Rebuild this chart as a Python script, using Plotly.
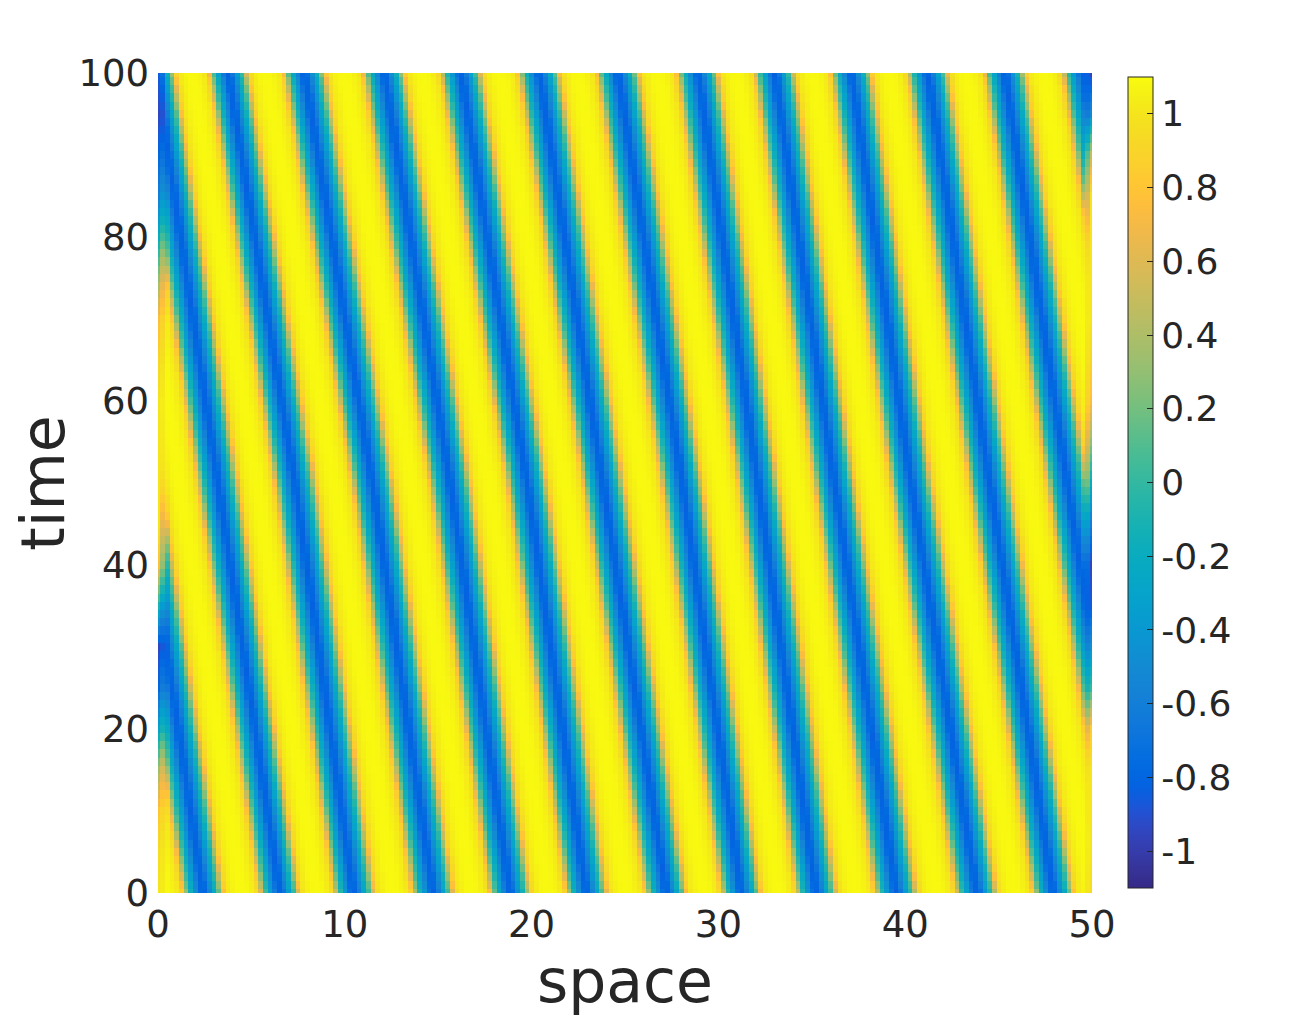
import numpy as np
import plotly.graph_objects as go

# ---------------- data ----------------
# time grid and space grid of the field
t_vals = np.arange(0, 101, 1.0)
x_vals = np.arange(0, 50.001, 0.25)

# centres of the blue (minimum) stripes at three reference times (space units)
key_times = [0, 50, 100]
blue_x_t0 = [-1.7, 2.41, 6.53, 10.44, 14.72, 18.84, 22.91, 27.2, 31.2, 35.2, 39.5, 43.8, 47.9, 52.0, 56.1, 60.2]
blue_x_t50 = [-5.05, -0.9, 3.21, 7.33, 11.46, 15.63, 19.75, 23.8, 28.05, 32.1, 36.2, 40.3, 44.5, 48.65, 52.8, 56.9]
blue_x_t100 = [-8.4, -4.3, -0.11, 3.75, 7.82, 12.1, 16.2, 20.4, 24.6, 28.9, 33.0, 37.1, 41.2, 45.3, 49.5, 53.6]

# value across one stripe period (0 = blue centre, 0.5 = yellow centre)
profile_phase = [0.0, 0.04, 0.08, 0.12, 0.16, 0.20, 0.235, 0.265, 0.29, 0.33, 0.42, 0.50,
                 0.58, 0.67, 0.71, 0.735, 0.765, 0.80, 0.84, 0.88, 0.92, 0.96, 1.0]
profile_value = [-0.83, -0.76, -0.56, -0.36, -0.15, 0.1, 0.45, 0.76, 0.91, 1.02, 1.08, 1.09,
                 1.08, 1.02, 0.91, 0.76, 0.45, 0.1, -0.15, -0.36, -0.56, -0.76, -0.83]

# boundary columns (values along time, every 5 time units)
edge_times = list(range(0, 101, 5))
left_edge_vals = [1.0, 0.95, 0.8, 0.35, -0.3, -0.8, -0.95, -0.1, 0.75, 1.0, 1.0,
                  1.0, 1.0, 0.9, 0.75, 0.3, -0.2, -0.6, -0.8, -0.95, -0.85]
right_edge_vals = [0.95, 1.0, 1.0, 1.0, 0.85, 0.0, -0.45, -0.85, -0.95, -0.6, -0.2,
                   0.3, 0.75, 0.9, 1.0, 1.0, 1.0, 1.0, 0.5, -0.5, -0.95]

x_tick_vals = [0, 10, 20, 30, 40, 50]
y_tick_vals = [0, 20, 40, 60, 80, 100]
cbar_tick_vals = [1, 0.8, 0.6, 0.4, 0.2, 0, -0.2, -0.4, -0.6, -0.8, -1]
cbar_tick_text = ["1", "0.8", "0.6", "0.4", "0.2", "0", "-0.2", "-0.4", "-0.6", "-0.8", "-1"]
c_min, c_max = -1.1, 1.1

# ---------------- build the field ----------------
pos = np.array([blue_x_t0, blue_x_t50, blue_x_t100])
K = pos.shape[1]
Z = np.zeros((len(t_vals), len(x_vals)))
for i, tt in enumerate(t_vals):
    p = np.array([np.interp(tt, key_times, pos[:, k]) for k in range(K)])
    ph = np.interp(x_vals, p, np.arange(K))
    f = np.mod(ph, 1.0)
    Z[i, :] = np.interp(f, profile_phase, profile_value)

le = np.interp(t_vals, edge_times, left_edge_vals)
re = np.interp(t_vals, edge_times, right_edge_vals)
Z[:, 0] = le
Z[:, 1] = 0.6 * le + 0.4 * Z[:, 1]
Z[:, -1] = re
Z[:, -2] = 0.6 * re + 0.4 * Z[:, -2]

# MATLAB parula colormap
parula = [[0.2081, 0.1663, 0.5292], [0.2116, 0.1898, 0.5777], [0.2123, 0.2138, 0.6270], [0.2081, 0.2386, 0.6771],
          [0.1959, 0.2645, 0.7279], [0.1707, 0.2919, 0.7792], [0.1253, 0.3242, 0.8303], [0.0591, 0.3598, 0.8683],
          [0.0117, 0.3875, 0.8820], [0.0060, 0.4086, 0.8828], [0.0165, 0.4266, 0.8786], [0.0329, 0.4430, 0.8720],
          [0.0498, 0.4586, 0.8641], [0.0629, 0.4737, 0.8554], [0.0723, 0.4887, 0.8467], [0.0779, 0.5040, 0.8384],
          [0.0793, 0.5200, 0.8312], [0.0749, 0.5375, 0.8263], [0.0641, 0.5570, 0.8240], [0.0488, 0.5772, 0.8228],
          [0.0343, 0.5966, 0.8199], [0.0265, 0.6137, 0.8135], [0.0239, 0.6287, 0.8038], [0.0231, 0.6418, 0.7913],
          [0.0228, 0.6535, 0.7768], [0.0267, 0.6642, 0.7607], [0.0384, 0.6743, 0.7436], [0.0590, 0.6838, 0.7254],
          [0.0843, 0.6928, 0.7062], [0.1133, 0.7015, 0.6859], [0.1453, 0.7098, 0.6646], [0.1801, 0.7177, 0.6424],
          [0.2178, 0.7250, 0.6193], [0.2586, 0.7317, 0.5954], [0.3022, 0.7376, 0.5712], [0.3482, 0.7424, 0.5473],
          [0.3953, 0.7459, 0.5244], [0.4420, 0.7481, 0.5033], [0.4871, 0.7491, 0.4840], [0.5300, 0.7491, 0.4661],
          [0.5709, 0.7485, 0.4494], [0.6099, 0.7473, 0.4337], [0.6473, 0.7456, 0.4188], [0.6834, 0.7435, 0.4044],
          [0.7184, 0.7411, 0.3905], [0.7525, 0.7384, 0.3768], [0.7858, 0.7356, 0.3633], [0.8185, 0.7327, 0.3498],
          [0.8507, 0.7299, 0.3360], [0.8824, 0.7274, 0.3217], [0.9139, 0.7258, 0.3063], [0.9450, 0.7261, 0.2886],
          [0.9739, 0.7314, 0.2666], [0.9938, 0.7455, 0.2403], [0.9990, 0.7653, 0.2164], [0.9955, 0.7861, 0.1967],
          [0.9880, 0.8066, 0.1794], [0.9789, 0.8271, 0.1633], [0.9697, 0.8481, 0.1475], [0.9626, 0.8705, 0.1309],
          [0.9589, 0.8949, 0.1132], [0.9598, 0.9218, 0.0948], [0.9661, 0.9514, 0.0755], [0.9763, 0.9831, 0.0538]]
n = len(parula)
colorscale = [[i / (n - 1), "rgb(%d,%d,%d)" % tuple(int(round(255 * c)) for c in rgb)] for i, rgb in enumerate(parula)]

FONT = "DejaVu Sans"
TXT = "#262626"

fig = go.Figure(go.Heatmap(
    x=x_vals, y=t_vals, z=Z,
    colorscale=colorscale, zmin=c_min, zmax=c_max, zsmooth=False,
    colorbar=dict(
        x=(1128 - 158) / 934, xanchor="left", xpad=0,
        y=(893 - 482.5) / 820, yanchor="middle", ypad=0,
        lenmode="pixels", len=811, thickness=25,
        outlinewidth=1, outlinecolor=TXT,
        tickmode="array", tickvals=cbar_tick_vals, ticktext=cbar_tick_text,
        ticks="inside", ticklen=6, tickcolor=TXT, tickwidth=1,
        tickfont=dict(family=FONT, size=36, color=TXT),
    ),
))

# the page body adds an 8 px offset, so margins are reduced by 8 px
fig.update_layout(
    width=1296, height=1020,
    margin=dict(l=150, r=212, t=65, b=135),
    paper_bgcolor="white", plot_bgcolor="white",
    font=dict(family=FONT, color=TXT),
    xaxis=dict(range=[0, 50], tickmode="array", tickvals=x_tick_vals, showgrid=False, zeroline=False,
               ticks="", ticklabelstandoff=6, tickfont=dict(size=37, color=TXT),
               title=dict(text="space", font=dict(size=60, color=TXT), standoff=10)),
    yaxis=dict(range=[0, 100], tickmode="array", tickvals=y_tick_vals, showgrid=False, zeroline=False,
               ticks="", ticklabelstandoff=8, tickfont=dict(size=37, color=TXT),
               title=dict(text="time", font=dict(size=60, color=TXT), standoff=12)),
)

fig.write_html("out.html")
